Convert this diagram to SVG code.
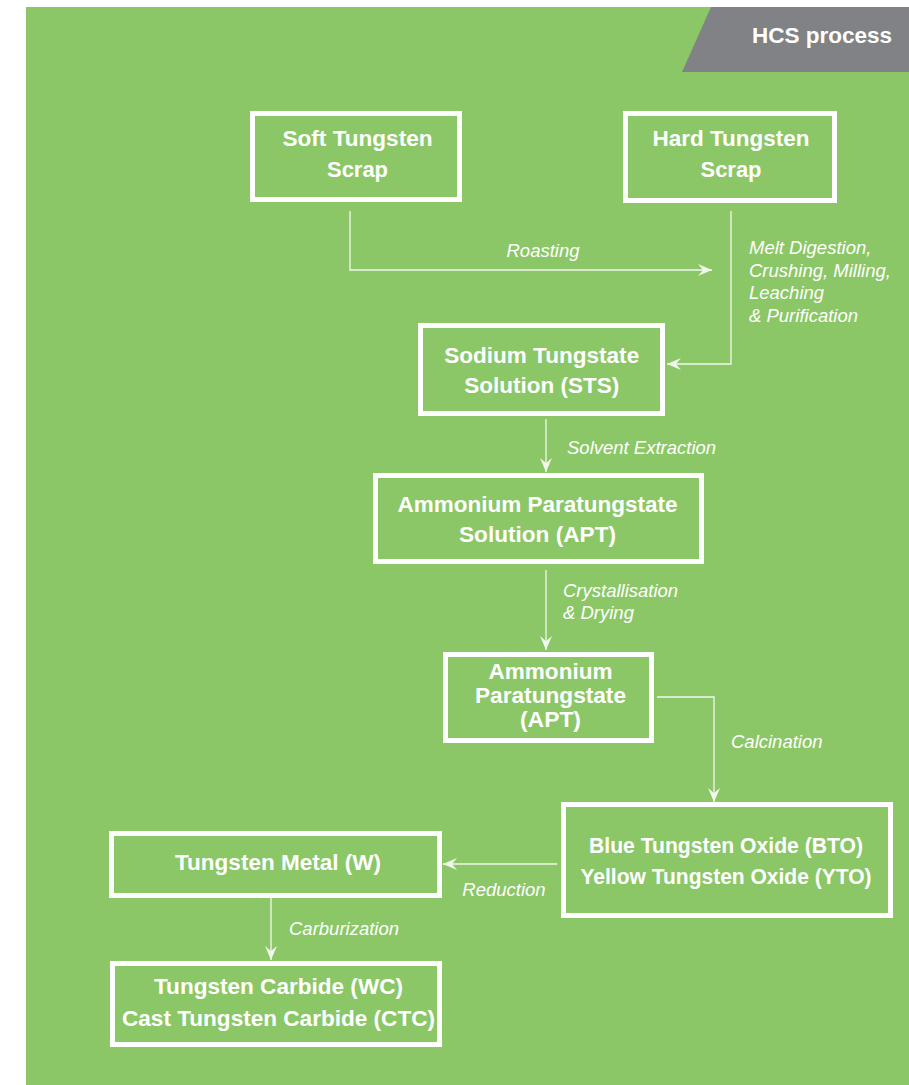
<svg xmlns="http://www.w3.org/2000/svg" width="909" height="1085" viewBox="0 0 909 1085">
  <style>
    .box { fill: none; stroke: #ffffff; stroke-width: 5; }
    .title { font-family: "Liberation Sans", Arial, sans-serif; font-weight: bold; font-size: 22.5px; fill: #ffffff; text-anchor: middle; }
    .step { font-family: "Liberation Sans", Arial, sans-serif; font-style: italic; font-size: 18.5px; fill: #ffffff; }
    .link { fill: none; stroke: #f2f7ee; stroke-width: 1.3; }
    .tab { font-family: "Liberation Sans", Arial, sans-serif; font-weight: bold; font-size: 22.5px; fill: #ffffff; }
  </style>
  <defs>
    <marker id="arrow" viewBox="-15 -7 16 14" refX="0" refY="0" markerWidth="16" markerHeight="14" markerUnits="userSpaceOnUse" orient="auto">
      <path d="M0,0 L-14,-6 L-9,0 L-14,6 Z" fill="#f2f7ee"/>
    </marker>
  </defs>

  <!-- background panel -->
  <rect x="0" y="0" width="909" height="1085" fill="#ffffff"/>
  <rect x="26" y="7" width="883" height="1078" fill="#8bc766"/>

  <!-- header tab -->
  <g id="header">
    <polygon points="711,7 909,7 909,72 682,72" fill="#808285"/>
    <text class="tab" x="752" y="43" textLength="140" lengthAdjust="spacingAndGlyphs">HCS process</text>
  </g>

  <!-- connectors -->
  <g id="connectors">
    <path class="link" d="M350,211 V270 H712" marker-end="url(#arrow)"/>
    <path class="link" d="M731,211 V364 H667" marker-end="url(#arrow)"/>
    <path class="link" d="M546,419 V472" marker-end="url(#arrow)"/>
    <path class="link" d="M546,570 V650" marker-end="url(#arrow)"/>
    <path class="link" d="M657,697 H714 V802" marker-end="url(#arrow)"/>
    <path class="link" d="M557,864 H443" marker-end="url(#arrow)"/>
    <path class="link" d="M271,898 V960" marker-end="url(#arrow)"/>

    <text class="step" x="543" y="257" text-anchor="middle" textLength="73" lengthAdjust="spacingAndGlyphs">Roasting</text>
    <text class="step" x="749" y="254">Melt Digestion,</text>
    <text class="step" x="749" y="277">Crushing, Milling,</text>
    <text class="step" x="749" y="299">Leaching</text>
    <text class="step" x="749" y="322">&amp; Purification</text>
    <text class="step" x="567" y="454">Solvent Extraction</text>
    <text class="step" x="563" y="597">Crystallisation</text>
    <text class="step" x="563" y="619">&amp; Drying</text>
    <text class="step" x="731" y="748">Calcination</text>
    <text class="step" x="504" y="896" text-anchor="middle">Reduction</text>
    <text class="step" x="289" y="935">Carburization</text>
  </g>

  <g id="soft-scrap">
    <rect class="box" x="252.5" y="113.5" width="207" height="86"/>
    <text class="title" x="357.5" y="146" textLength="150" lengthAdjust="spacingAndGlyphs">Soft Tungsten</text>
    <text class="title" x="357.5" y="177" textLength="61" lengthAdjust="spacingAndGlyphs">Scrap</text>
  </g>

  <g id="hard-scrap">
    <rect class="box" x="625.5" y="113.5" width="209" height="87"/>
    <text class="title" x="731" y="146" textLength="157" lengthAdjust="spacingAndGlyphs">Hard Tungsten</text>
    <text class="title" x="731" y="177" textLength="61" lengthAdjust="spacingAndGlyphs">Scrap</text>
  </g>

  <g id="sts">
    <rect class="box" x="420.5" y="325.5" width="242" height="88"/>
    <text class="title" x="541.7" y="363" textLength="195" lengthAdjust="spacingAndGlyphs">Sodium Tungstate</text>
    <text class="title" x="541.7" y="393" textLength="155" lengthAdjust="spacingAndGlyphs">Solution (STS)</text>
  </g>

  <g id="apt-solution">
    <rect class="box" x="375.5" y="475.5" width="326" height="86"/>
    <text class="title" x="537.5" y="512" textLength="280" lengthAdjust="spacingAndGlyphs">Ammonium Paratungstate</text>
    <text class="title" x="537.5" y="542" textLength="157" lengthAdjust="spacingAndGlyphs">Solution (APT)</text>
  </g>

  <g id="apt">
    <rect class="box" x="445.5" y="654.5" width="206" height="86"/>
    <text class="title" x="550.5" y="679" textLength="124" lengthAdjust="spacingAndGlyphs">Ammonium</text>
    <text class="title" x="550.5" y="703" textLength="151" lengthAdjust="spacingAndGlyphs">Paratungstate</text>
    <text class="title" x="550.5" y="727" textLength="61" lengthAdjust="spacingAndGlyphs">(APT)</text>
  </g>

  <g id="oxides">
    <rect class="box" x="563.5" y="804.5" width="327" height="111"/>
    <text class="title" x="726" y="853" textLength="274" lengthAdjust="spacingAndGlyphs">Blue Tungsten Oxide (BTO)</text>
    <text class="title" x="726" y="884" textLength="291" lengthAdjust="spacingAndGlyphs">Yellow Tungsten Oxide (YTO)</text>
  </g>

  <g id="metal">
    <rect class="box" x="111.5" y="833.5" width="328" height="62"/>
    <text class="title" x="278" y="870" textLength="206" lengthAdjust="spacingAndGlyphs">Tungsten Metal (W)</text>
  </g>

  <g id="carbide">
    <rect class="box" x="112.5" y="963.5" width="327" height="81"/>
    <text class="title" x="278.5" y="994" textLength="249" lengthAdjust="spacingAndGlyphs">Tungsten Carbide (WC)</text>
    <text class="title" x="278.5" y="1026" textLength="313" lengthAdjust="spacingAndGlyphs">Cast Tungsten Carbide (CTC)</text>
  </g>
</svg>
